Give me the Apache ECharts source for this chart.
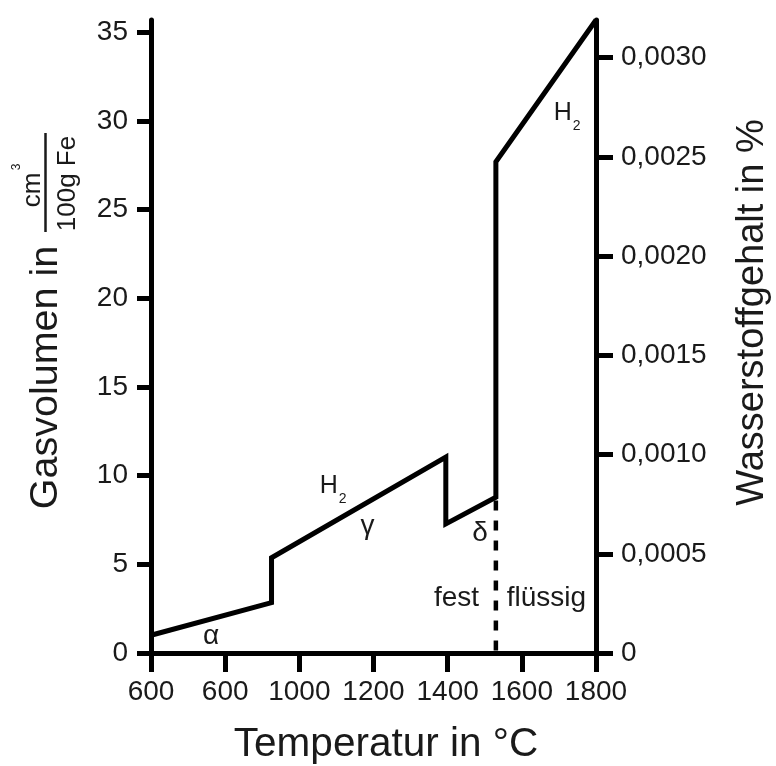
<!DOCTYPE html>
<html>
<head>
<meta charset="utf-8">
<script src="https://cdn.jsdelivr.net/npm/echarts@6/dist/echarts.min.js"></script>
<style>
html,body{margin:0;padding:0;background:#fff;}
#chart{width:776px;height:766px;}
</style>
</head>
<body>
<div id="chart"></div>
<script>
// ---- data ----
const xTickValues = [600, 800, 1000, 1200, 1400, 1600, 1800];
const xTickLabels = ['600', '600', '1000', '1200', '1400', '1600', '1800'];
const leftTickValues = [0, 5, 10, 15, 20, 25, 30, 35];
const rightTickValues = [0, 0.0005, 0.0010, 0.0015, 0.0020, 0.0025, 0.0030];
const rightTickLabels = ['0', '0,0005', '0,0010', '0,0015', '0,0020', '0,0025', '0,0030'];

const curveTemp = [600, 925, 925, 1395, 1395, 1530, 1530, 1800];
const curveGas  = [1.0, 2.84, 5.37, 11.05, 7.28, 8.78, 27.7, 35.7];

const meltTemp = [1530, 1530];
const meltGas  = [8.6, 0];

const annText = ['α', 'H2', 'γ', 'δ', 'fest', 'flüssig', 'H2'];
const annTemp = [762, 1091, 1184, 1487, 1424, 1666, 1722];
const annGas  = [0.95, 9.42, 7.16, 6.77, 3.10, 3.10, 30.43];

// ---- chart ----
const FONT = "'Liberation Sans', Arial, Helvetica, sans-serif";
const TXT = '#1a1a1a';
const chart = echarts.init(document.getElementById('chart'), null, {renderer: 'canvas'});

const curveData = curveTemp.map((t, i) => [t, curveGas[i]]);
const meltData = meltTemp.map((t, i) => [t, meltGas[i]]);
const annData = annText.map((s, i) => ({name: s, value: [annTemp[i], annGas[i]]}));

const leftMax = 35.7;
const rightMax = 0.00319;

chart.setOption({
  animation: false,
  backgroundColor: '#fff',
  grid: {left: 151, right: 180, top: 20, bottom: 113},
  xAxis: {
    type: 'value', min: 600, max: 1800, interval: 200,
    splitLine: {show: false},
    axisLine: {show: true, lineStyle: {color: '#000', width: 5}},
    axisTick: {show: true, length: 19, lineStyle: {color: '#000', width: 5}},
    axisLabel: {
      margin: 25, color: TXT, fontSize: 28, fontFamily: FONT,
      formatter: v => { const i = xTickValues.indexOf(v); return i >= 0 ? xTickLabels[i] : ''; }
    }
  },
  yAxis: [{
    type: 'value', min: 0, max: leftMax, position: 'left',
    splitLine: {show: false},
    axisLine: {show: true, lineStyle: {color: '#000', width: 5}},
    axisTick: {show: true, length: 14, customValues: leftTickValues, lineStyle: {color: '#000', width: 5}},
    axisLabel: {margin: 23, color: TXT, fontSize: 28, fontFamily: FONT, customValues: leftTickValues}
  }, {
    type: 'value', min: 0, max: rightMax, position: 'right',
    splitLine: {show: false},
    axisLine: {show: true, lineStyle: {color: '#000', width: 5}},
    axisTick: {show: true, length: 17, customValues: rightTickValues, lineStyle: {color: '#000', width: 5}},
    axisLabel: {
      margin: 25, color: TXT, fontSize: 28, fontFamily: FONT, customValues: rightTickValues,
      formatter: v => {
        let best = 0, d = Infinity;
        rightTickValues.forEach((r, i) => { if (Math.abs(r - v) < d) { d = Math.abs(r - v); best = i; } });
        return rightTickLabels[best];
      }
    }
  }],
  series: [{
    type: 'line', data: curveData, yAxisIndex: 0, symbol: 'none', clip: false, z: 5,
    lineStyle: {color: '#000', width: 5, join: 'miter', miterLimit: 20, cap: 'butt'}
  }, {
    type: 'line', data: meltData, yAxisIndex: 0, symbol: 'none', clip: false, z: 4,
    lineStyle: {color: '#000', width: 4.5, type: [10, 10], cap: 'butt'}
  }, {
    type: 'scatter', data: annData, yAxisIndex: 0, symbolSize: 1, z: 6,
    itemStyle: {opacity: 0},
    emphasis: {disabled: true},
    label: {
      show: true, position: 'inside', color: TXT, fontFamily: FONT, fontSize: 28,
      textBorderWidth: 0, textBorderColor: 'transparent', opacity: 1,
      formatter: p => p.name === 'H2' ? '{h|H}{s|2}' : p.name,
      rich: {
        h: {fontSize: 25, fontFamily: FONT, color: TXT, textBorderWidth: 0},
        s: {fontSize: 14, fontFamily: FONT, color: TXT, textBorderWidth: 0, padding: [26, 0, 0, 1]}
      }
    }
  }],
  graphic: [
    {type: 'text', x: 46, y: 377.5, rotation: Math.PI / 2,
     style: {text: 'Gasvolumen in', fontSize: 39.5, fontFamily: FONT, fill: TXT, align: 'center', verticalAlign: 'middle'}},
    {type: 'text', x: 33, y: 190, rotation: Math.PI / 2,
     style: {text: 'cm', fontSize: 26, fontFamily: FONT, fill: TXT, align: 'center', verticalAlign: 'middle'}},
    {type: 'text', x: 17, y: 167, rotation: Math.PI / 2,
     style: {text: '3', fontSize: 12, fontFamily: FONT, fill: TXT, align: 'center', verticalAlign: 'middle'}},
    {type: 'line', shape: {x1: 45.5, y1: 133, x2: 45.5, y2: 232},
     style: {stroke: TXT, lineWidth: 2.5}},
    {type: 'text', x: 68, y: 183.5, rotation: Math.PI / 2,
     style: {text: '100g Fe', fontSize: 26, fontFamily: FONT, fill: TXT, align: 'center', verticalAlign: 'middle'}},
    {type: 'text', x: 753, y: 312.5, rotation: Math.PI / 2,
     style: {text: 'Wasserstoffgehalt in %', fontSize: 38, fontFamily: FONT, fill: TXT, align: 'center', verticalAlign: 'middle'}},
    {type: 'text', x: 386, y: 745,
     style: {text: 'Temperatur in °C', fontSize: 40.5, fontFamily: FONT, fill: TXT, align: 'center', verticalAlign: 'middle'}}
  ]
});
</script>
</body>
</html>
